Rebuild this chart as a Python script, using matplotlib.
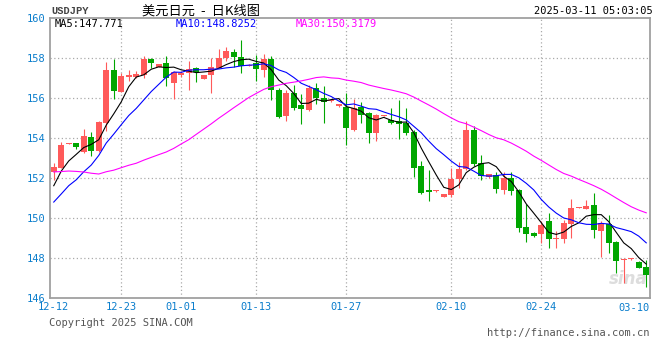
import numpy as np
import pandas as pd
import matplotlib
matplotlib.use("Agg")
import matplotlib.pyplot as plt

# daily candles 12-12 .. 03-11 (sina counts saturdays too)
opens = [152.32, 152.52, 153.72, 153.73, 153.30, 154.03, 153.37, 154.73, 157.40, 156.32,
         157.07, 157.07, 157.15, 157.95, 157.57, 157.75, 156.77, 157.17, 157.23, 157.48,
         156.97, 157.15, 157.52, 158.00, 158.28, 158.03, 157.62, 157.77, 157.40, 157.95,
         156.40, 155.10, 156.27, 155.65, 155.40, 156.48, 155.98, 155.85, 155.60, 155.55,
         154.40, 155.53, 155.23, 154.23, 155.10, 154.90, 154.85, 154.73, 154.32, 152.60,
         151.40, 151.33, 151.07, 151.15, 151.93, 152.43, 154.40, 152.73, 152.03, 152.15,
         151.40, 152.02, 151.40, 149.53, 149.23, 149.20, 149.85, 148.95, 148.95, 149.68,
         150.52, 150.47, 150.65, 149.37, 149.70, 148.82, 147.90, 147.93, 147.78, 147.57]
highs = [152.77, 153.80, 153.76, 153.75, 154.45, 154.30, 154.87, 157.80, 157.95, 157.25,
         157.40, 157.35, 158.12, 158.00, 157.72, 158.12, 157.35, 157.35, 157.85, 157.55,
         157.15, 157.98, 158.45, 158.57, 158.43, 158.90, 157.70, 158.15, 158.20, 158.12,
         156.50, 156.40, 156.65, 156.20, 156.65, 156.73, 156.60, 155.90, 155.72, 156.25,
         155.95, 155.82, 155.30, 155.20, 155.17, 155.48, 155.90, 155.48, 154.40, 152.85,
         152.40, 151.40, 151.22, 152.52, 152.82, 154.85, 154.62, 153.15, 152.22, 152.30,
         152.28, 152.30, 151.45, 150.70, 149.30, 149.85, 150.27, 149.37, 149.90, 150.95,
         150.57, 150.90, 151.27, 149.85, 150.15, 148.85, 148.00, 147.98, 147.85, 147.88]
lows = [151.90, 152.50, 153.70, 153.47, 153.25, 153.12, 153.30, 154.37, 155.93, 156.30,
        156.87, 157.00, 157.00, 157.50, 157.55, 156.62, 155.97, 157.05, 156.40, 156.80,
        156.97, 156.23, 157.50, 157.85, 157.57, 157.23, 157.60, 156.87, 157.03, 155.90,
        155.00, 154.87, 155.38, 154.70, 155.35, 155.70, 154.77, 155.82, 155.55, 153.65,
        154.35, 154.73, 153.73, 153.87, 155.08, 154.70, 153.95, 154.15, 152.07, 151.18,
        150.87, 151.30, 151.05, 151.05, 151.52, 152.40, 152.60, 151.90, 152.00, 151.27,
        151.18, 151.15, 149.32, 148.82, 149.05, 148.77, 148.48, 148.52, 148.73, 149.02,
        150.50, 150.45, 149.02, 148.03, 148.27, 147.23, 146.73, 147.92, 147.50, 146.53]
closes = [152.57, 153.65, 153.74, 153.55, 154.10, 153.37, 154.80, 157.40, 156.37, 157.10,
          157.15, 157.22, 157.95, 157.77, 157.70, 156.98, 157.32, 157.27, 157.45, 157.32,
          157.15, 157.53, 158.00, 158.35, 158.07, 157.62, 157.67, 157.43, 157.95, 156.40,
          155.03, 156.27, 155.48, 155.45, 156.48, 155.98, 155.82, 155.87, 155.70, 154.50,
          155.48, 155.15, 154.23, 155.15, 155.15, 154.73, 154.68, 154.27, 152.52, 151.27,
          151.32, 151.37, 151.20, 151.95, 152.43, 154.40, 152.70, 152.10, 152.20, 151.43,
          152.02, 151.37, 149.52, 149.18, 149.12, 149.65, 148.93, 149.02, 149.77, 150.52,
          150.55, 150.60, 149.40, 149.77, 148.77, 147.87, 147.97, 147.97, 147.52, 147.15]

# closes before 12-12, only needed so the moving averages start right
prev_close = [153.0, 153.0, 154.1, 155.0, 155.2, 156.0, 154.0, 154.0, 153.4, 153.5,
              154.2, 153.3, 153.6, 153.6, 153.0, 151.9, 150.6, 151.1, 149.3, 149.3,
              149.6, 149.6, 150.6, 150.1, 150.0, 150.0, 151.2, 151.9, 152.4]

tick_idx = [0, 9, 17, 27, 39, 53, 65, 78]
tick_lab = ["12-12", "12-23", "01-01", "01-13", "01-27", "02-10", "02-24", "03-10"]
y_ticks = [146, 148, 150, 152, 154, 156, 158, 160]

ma_windows = [5, 10, 30]
ma_colors = ["black", "#0000ff", "#ff00ff"]
ma_last = ["147.771", "148.8252", "150.3179"]  # as printed in the legend

mono = "DejaVu Sans Mono"
blue = "#0a7dcc"
up_col = "#ff5a5a"
down_col = "#00a600"

x = np.arange(len(closes))
o = np.array(opens)
c = np.array(closes)
allc = pd.Series(prev_close + closes)
mas = [allc.rolling(w).mean().iloc[len(prev_close):].to_numpy() for w in ma_windows]

fig = plt.figure(figsize=(6.6, 3.6), dpi=100)
ax = fig.add_axes([50 / 660, 62 / 360, 600 / 660, 280 / 360])

cols = [up_col if cc >= oo else down_col for oo, cc in zip(o, c)]

# grid first so the candles sit on top
for yv in y_ticks[1:-1]:
    ax.axhline(yv, color="#aaaaaa", lw=0.9, ls=(0, (1, 2)), zorder=0)
for t in tick_idx[1:-1]:
    ax.axvline(t, color="#aaaaaa", lw=0.9, ls=(0, (1, 2)), zorder=0)

ax.text(79.2, 146.5, "sina", fontsize=12, fontweight="bold", style="italic",
        color="#dddddd", ha="right", va="bottom", zorder=0)

ax.vlines(x, lows, highs, colors=cols, lw=0.8, zorder=2)
body = np.maximum(np.abs(c - o), 0.05)
ax.bar(x, body, bottom=np.minimum(o, c), width=0.8, color=cols, zorder=3)

for m, col in zip(mas, ma_colors):
    ax.plot(x, m, color=col, lw=0.8, zorder=4)

ax.set_xlim(-0.5, len(closes) - 0.5)
ax.set_ylim(146, 160)
ax.set_yticks(y_ticks)
ax.set_yticklabels([str(v) for v in y_ticks], fontfamily=mono, fontsize=7.5, color=blue)
ax.set_xticks(tick_idx[:-1])
ax.set_xticklabels(tick_lab[:-1], fontfamily=mono, fontsize=7.5, color=blue)
ax.text(1.0, -0.035, tick_lab[-1], transform=ax.transAxes, ha="right", va="center",
        fontfamily=mono, fontsize=7.5, color=blue)
ax.tick_params(length=0, pad=3)
for s in ax.spines.values():
    s.set_color("#a0a0a0")
    s.set_linewidth(1.3)

# moving average legend along the top
leg_x = [5 / 600, 126 / 600, 246 / 600]
for lx, w, v, col in zip(leg_x, ma_windows, ma_last, ma_colors):
    ax.text(lx, 1 - 6 / 280, f"MA{w}:{v}", transform=ax.transAxes,
            fontfamily=mono, fontsize=7.5, color=col, va="center", ha="left", zorder=5)

# header / footer
fig.text(51 / 660, 1 - 11 / 360, "USDJPY", fontfamily="Liberation Mono", fontweight="bold",
         fontsize=7.5, color="#444444", va="center")
fig.text(201 / 660, 1 - 11 / 360, "美元日元  -  日K线图", family=["Noto Sans CJK SC", "DejaVu Sans"],
         fontsize=9.5, color="black", ha="center", va="center")
fig.text(653 / 660, 1 - 11 / 360, "2025-03-11 05:03:05", fontfamily=mono, fontsize=7.5,
         color="black", ha="right", va="center")
fig.text(49 / 660, 1 - 323 / 360, "Copyright 2025 SINA.COM", fontfamily=mono, fontsize=7.5,
         color="#555555", va="center")
fig.text(649 / 660, 1 - 333 / 360, "http://finance.sina.com.cn", fontfamily=mono, fontsize=7.5,
         color="#555555", ha="right", va="center")

fig.savefig("out.png", dpi=100, facecolor="white")
